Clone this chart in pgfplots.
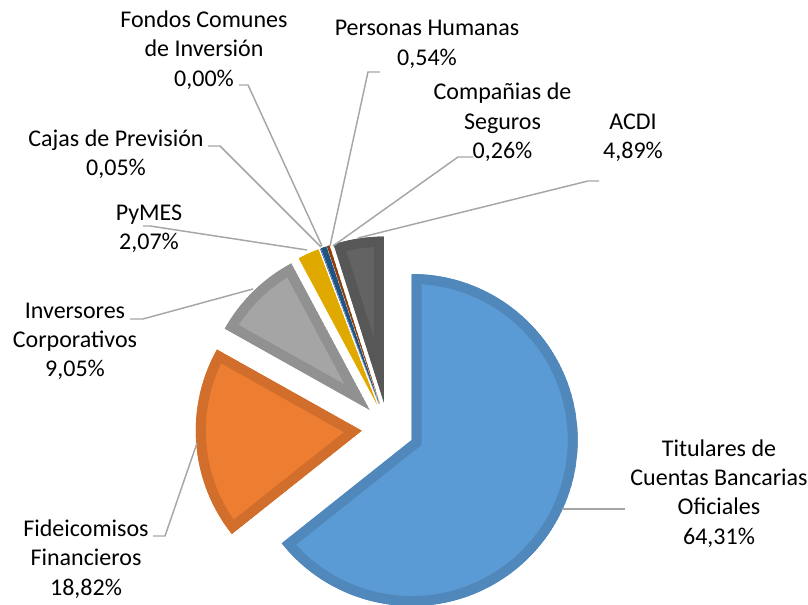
\documentclass[border=0pt]{standalone}
\usepackage{pgfplots}
\pgfplotsset{compat=1.18}
\usepackage{pgfplotstable}
\usepackage{fontspec}
\setmainfont{Carlito}

\definecolor{cA}{HTML}{5B9BD5}
\definecolor{cB}{HTML}{ED7D31}
\definecolor{cC}{HTML}{A5A5A5}
\definecolor{cD}{HTML}{FFC000}
\definecolor{cE}{HTML}{4472C4}
\definecolor{cF}{HTML}{70AD47}
\definecolor{cG}{HTML}{255E91}
\definecolor{cH}{HTML}{9E480E}
\definecolor{cI}{HTML}{636363}
\definecolor{leader}{HTML}{A6A6A6}

\tikzset{lbl/.style={font=\fontsize{18}{22}\selectfont, align=center, text=black, inner sep=0pt}}

\pgfplotstableread[col sep=comma]{
name,value,color
Titulares,64.31,cA
Fideicomisos,18.82,cB
Inversores,9.05,cC
PyMES,2.07,cD
Cajas,0.05,cE
Fondos,0.00,cF
Personas,0.54,cG
Companias,0.26,cH
ACDI,4.89,cI
}\piedata

\begin{document}
\begin{tikzpicture}
\begin{axis}[
  x=0.75pt, y=0.75pt,
  xmin=0, xmax=808, ymin=0, ymax=605,
  hide axis, clip=false,
]
% pie slices computed from the table values
\def\cum{0}
\pgfplotsforeachungrouped \i in {0,...,8} {
  \pgfplotstablegetelem{\i}{value}\of\piedata \let\v\pgfplotsretval
  \pgfplotstablegetelem{\i}{color}\of\piedata \let\c\pgfplotsretval
  \pgfmathsetmacro\aone{90-3.6*\cum}
  \pgfmathsetmacro\atwo{90-3.6*(\cum+\v)}
  \pgfmathsetmacro\amid{(\aone+\atwo)/2}
  \pgfmathsetmacro\px{388+26.3*cos(\amid)}
  \pgfmathsetmacro\py{176.4+26.3*sin(\amid)}
  \pgfmathsetmacro\cum{\cum+\v}
  \ifdim\v pt>0pt
  \edef\doslice{\noexpand\pgfplotsextra{%
    \noexpand\begin{scope}
    \noexpand\clip (axis cs:\px,\py) -- ++(\aone:124.5pt) arc[start angle=\aone, end angle=\atwo, radius=124.5pt] -- cycle;
    \noexpand\fill[\c] (axis cs:\px,\py) -- ++(\aone:124.5pt) arc[start angle=\aone, end angle=\atwo, radius=124.5pt] -- cycle;
    \noexpand\draw[\c!88!black, line width=15pt, line join=miter] (axis cs:\px,\py) -- ++(\aone:124.5pt) arc[start angle=\aone, end angle=\atwo, radius=124.5pt] -- cycle;
    \noexpand\end{scope}}}
  \doslice
  \fi
}

% leader lines
\addplot[leader, line width=1.1pt, no marks] coordinates {(239,520) (248,520) (322,359)};
\addplot[leader, line width=1.1pt, no marks] coordinates {(208,459) (220,459) (321,358)};
\addplot[leader, line width=1.1pt, no marks] coordinates {(143,379) (150,379) (307,355)};
\addplot[leader, line width=1.1pt, no marks] coordinates {(380,533) (368,533) (330,359)};
\addplot[leader, line width=1.1pt, no marks] coordinates {(473,448) (458,448) (333,359)};
\addplot[leader, line width=1.1pt, no marks] coordinates {(599,424) (588,424) (358,367)};
\addplot[leader, line width=1.1pt, no marks] coordinates {(130,286) (143,286) (253,316)};
\addplot[leader, line width=1.1pt, no marks] coordinates {(153,69) (165,69) (197,162)};
\addplot[leader, line width=1.1pt, no marks] coordinates {(562,96) (625,96)};

% labels
\node[lbl] at (axis cs:204,555) {Fondos Comunes\\de Inversión\\0,00\%};
\node[lbl] at (axis cs:116,451) {Cajas de Previsión\\0,05\%};
\node[lbl] at (axis cs:149,376.5) {PyMES\\2,07\%};
\node[lbl] at (axis cs:427,560.5) {Personas Humanas\\0,54\%};
\node[lbl] at (axis cs:502.5,482.5) {Compañias de\\Seguros\\0,26\%};
\node[lbl] at (axis cs:633,467) {ACDI\\4,89\%};
\node[lbl] at (axis cs:75,263.5) {Inversores\\Corporativos\\9,05\%};
\node[lbl] at (axis cs:86,46) {Fideicomisos\\Financieros\\18,82\%};
\node[lbl] at (axis cs:719,111.5) {Titulares de\\Cuentas Bancarias\\Oficiales\\64,31\%};
\end{axis}
\pgfresetboundingbox
\path (current axis.south west) rectangle (current axis.north east);
\end{tikzpicture}
\end{document}
